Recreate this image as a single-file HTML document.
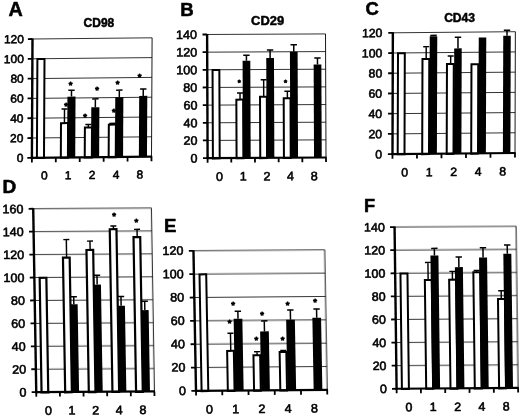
<!DOCTYPE html>
<html><head><meta charset="utf-8"><title>Figure</title>
<style>
html,body{margin:0;padding:0;background:#fff;}
body{width:520px;height:416px;overflow:hidden;}
svg{display:block;font-family:'Liberation Sans', sans-serif;fill:#000;}
text{stroke:#000;stroke-width:0.58px;stroke-linejoin:round;}
text.st{stroke-width:1.0px;}
</style></head><body>
<svg width="520" height="416" viewBox="0 0 520 416">
<defs><filter id="bl" x="0" y="0" width="520" height="416" filterUnits="userSpaceOnUse"><feGaussianBlur stdDeviation="0.4"/></filter><filter id="bl2" x="0" y="0" width="520" height="416" filterUnits="userSpaceOnUse"><feGaussianBlur stdDeviation="0.2"/></filter></defs>
<rect width="520" height="416" fill="#fff"/>
<g filter="url(#bl2)">
<g transform="translate(31.9 157.8) matrix(1 -0.01 -0.005 1 0 0) translate(-31.9 -157.8)">
<line x1="31.9" y1="138.00" x2="151.5" y2="138.00" stroke="#000" stroke-width="0.8"/>
<line x1="31.9" y1="118.20" x2="151.5" y2="118.20" stroke="#000" stroke-width="0.8"/>
<line x1="31.9" y1="98.40" x2="151.5" y2="98.40" stroke="#000" stroke-width="0.8"/>
<line x1="31.9" y1="78.60" x2="151.5" y2="78.60" stroke="#000" stroke-width="0.8"/>
<line x1="31.9" y1="58.80" x2="151.5" y2="58.80" stroke="#000" stroke-width="0.8"/>
<line x1="31.9" y1="39.00" x2="151.5" y2="39.00" stroke="#000" stroke-width="0.8"/>
<line x1="151.5" y1="39.00" x2="151.5" y2="157.8" stroke="#000" stroke-width="0.9"/>
</g>
<g transform="translate(207.6 158.1) matrix(1 -0.005 0.004 1 0 0) translate(-207.6 -158.1)">
<line x1="207.6" y1="140.44" x2="326.0" y2="140.44" stroke="#000" stroke-width="0.8"/>
<line x1="207.6" y1="122.79" x2="326.0" y2="122.79" stroke="#000" stroke-width="0.8"/>
<line x1="207.6" y1="105.13" x2="326.0" y2="105.13" stroke="#000" stroke-width="0.8"/>
<line x1="207.6" y1="87.47" x2="326.0" y2="87.47" stroke="#000" stroke-width="0.8"/>
<line x1="207.6" y1="69.81" x2="326.0" y2="69.81" stroke="#000" stroke-width="0.8"/>
<line x1="207.6" y1="52.16" x2="326.0" y2="52.16" stroke="#000" stroke-width="0.8"/>
<line x1="207.6" y1="34.50" x2="326.0" y2="34.50" stroke="#000" stroke-width="0.8"/>
<line x1="326.0" y1="34.50" x2="326.0" y2="158.1" stroke="#000" stroke-width="0.9"/>
</g>
<g transform="translate(392.5 154.1) matrix(1 -0.009 -0.003 1 0 0) translate(-392.5 -154.1)">
<line x1="392.5" y1="133.88" x2="515.0" y2="133.88" stroke="#000" stroke-width="0.8"/>
<line x1="392.5" y1="113.67" x2="515.0" y2="113.67" stroke="#000" stroke-width="0.8"/>
<line x1="392.5" y1="93.45" x2="515.0" y2="93.45" stroke="#000" stroke-width="0.8"/>
<line x1="392.5" y1="73.23" x2="515.0" y2="73.23" stroke="#000" stroke-width="0.8"/>
<line x1="392.5" y1="53.02" x2="515.0" y2="53.02" stroke="#000" stroke-width="0.8"/>
<line x1="392.5" y1="32.80" x2="515.0" y2="32.80" stroke="#000" stroke-width="0.8"/>
<line x1="515.0" y1="32.80" x2="515.0" y2="154.1" stroke="#000" stroke-width="0.9"/>
</g>
<g transform="translate(36.25 392.15) matrix(1 -0.006 0.0165 1 0 0) translate(-36.25 -392.15)">
<line x1="36.25" y1="369.22" x2="154.4" y2="369.22" stroke="#000" stroke-width="0.8"/>
<line x1="36.25" y1="346.30" x2="154.4" y2="346.30" stroke="#000" stroke-width="0.8"/>
<line x1="36.25" y1="323.38" x2="154.4" y2="323.38" stroke="#000" stroke-width="0.8"/>
<line x1="36.25" y1="300.45" x2="154.4" y2="300.45" stroke="#000" stroke-width="0.8"/>
<line x1="36.25" y1="277.52" x2="154.4" y2="277.52" stroke="#000" stroke-width="0.8"/>
<line x1="36.25" y1="254.60" x2="154.4" y2="254.60" stroke="#000" stroke-width="0.8"/>
<line x1="36.25" y1="231.67" x2="154.4" y2="231.67" stroke="#000" stroke-width="0.8"/>
<line x1="36.25" y1="208.75" x2="154.4" y2="208.75" stroke="#000" stroke-width="0.8"/>
<line x1="154.4" y1="208.75" x2="154.4" y2="392.15" stroke="#000" stroke-width="0.9"/>
</g>
<g transform="translate(196 390.9) matrix(1 -0.008 0.018 1 0 0) translate(-196 -390.9)">
<line x1="196" y1="367.55" x2="327.2" y2="367.55" stroke="#000" stroke-width="0.8"/>
<line x1="196" y1="344.20" x2="327.2" y2="344.20" stroke="#000" stroke-width="0.8"/>
<line x1="196" y1="320.85" x2="327.2" y2="320.85" stroke="#000" stroke-width="0.8"/>
<line x1="196" y1="297.50" x2="327.2" y2="297.50" stroke="#000" stroke-width="0.8"/>
<line x1="196" y1="274.15" x2="327.2" y2="274.15" stroke="#000" stroke-width="0.8"/>
<line x1="196" y1="250.80" x2="327.2" y2="250.80" stroke="#000" stroke-width="0.8"/>
<line x1="327.2" y1="250.80" x2="327.2" y2="390.9" stroke="#000" stroke-width="0.9"/>
</g>
<g transform="translate(396.6 388.75) matrix(1 -0.0065 0.0125 1 0 0) translate(-396.6 -388.75)">
<line x1="396.6" y1="365.65" x2="518.1" y2="365.65" stroke="#000" stroke-width="0.8"/>
<line x1="396.6" y1="342.55" x2="518.1" y2="342.55" stroke="#000" stroke-width="0.8"/>
<line x1="396.6" y1="319.45" x2="518.1" y2="319.45" stroke="#000" stroke-width="0.8"/>
<line x1="396.6" y1="296.35" x2="518.1" y2="296.35" stroke="#000" stroke-width="0.8"/>
<line x1="396.6" y1="273.25" x2="518.1" y2="273.25" stroke="#000" stroke-width="0.8"/>
<line x1="396.6" y1="250.15" x2="518.1" y2="250.15" stroke="#000" stroke-width="0.8"/>
<line x1="396.6" y1="227.05" x2="518.1" y2="227.05" stroke="#000" stroke-width="0.8"/>
<line x1="518.1" y1="227.05" x2="518.1" y2="388.75" stroke="#000" stroke-width="0.9"/>
</g>
</g>
<g filter="url(#bl)">
<g transform="translate(31.9 157.8) matrix(1 -0.01 -0.005 1 0 0) translate(-31.9 -157.8)">
<rect x="36.90" y="59.10" width="7.10" height="99.00" fill="#fff" stroke="#000" stroke-width="2.0"/>
<path d="M64.27 123.15V109.29M61.27 109.29H67.27" stroke="#000" stroke-width="1.45" fill="none"/>
<rect x="60.82" y="123.45" width="7.10" height="34.65" fill="#fff" stroke="#000" stroke-width="2.0"/>
<path d="M71.17 97.01V90.58M67.97 90.58H74.37" stroke="#000" stroke-width="1.5" fill="none"/>
<rect x="67.12" y="97.01" width="8.10" height="60.79" fill="#000"/>
<path d="M88.19 127.70V125.13M85.19 125.13H91.19" stroke="#000" stroke-width="1.45" fill="none"/>
<rect x="84.74" y="128.00" width="7.10" height="30.10" fill="#fff" stroke="#000" stroke-width="2.0"/>
<path d="M95.09 107.90V99.49M91.89 99.49H98.29" stroke="#000" stroke-width="1.5" fill="none"/>
<rect x="91.04" y="107.90" width="8.10" height="49.90" fill="#000"/>
<path d="M112.11 125.13V124.14M109.11 124.14H115.11" stroke="#000" stroke-width="1.45" fill="none"/>
<rect x="108.66" y="125.43" width="7.10" height="32.67" fill="#fff" stroke="#000" stroke-width="2.0"/>
<path d="M119.01 98.20V90.98M115.81 90.98H122.21" stroke="#000" stroke-width="1.5" fill="none"/>
<rect x="114.96" y="98.20" width="8.10" height="59.60" fill="#000"/>
<path d="M142.93 97.01V90.08M139.73 90.08H146.13" stroke="#000" stroke-width="1.5" fill="none"/>
<rect x="138.88" y="97.01" width="8.10" height="60.79" fill="#000"/>
<line x1="31.9" y1="38.40" x2="31.9" y2="158.8" stroke="#000" stroke-width="2.4"/>
<line x1="30.9" y1="157.8" x2="152.1" y2="157.8" stroke="#000" stroke-width="2.2"/>
<line x1="27.299999999999997" y1="157.80" x2="31.9" y2="157.80" stroke="#000" stroke-width="1.8"/>
<line x1="27.299999999999997" y1="138.00" x2="31.9" y2="138.00" stroke="#000" stroke-width="1.8"/>
<line x1="27.299999999999997" y1="118.20" x2="31.9" y2="118.20" stroke="#000" stroke-width="1.8"/>
<line x1="27.299999999999997" y1="98.40" x2="31.9" y2="98.40" stroke="#000" stroke-width="1.8"/>
<line x1="27.299999999999997" y1="78.60" x2="31.9" y2="78.60" stroke="#000" stroke-width="1.8"/>
<line x1="27.299999999999997" y1="58.80" x2="31.9" y2="58.80" stroke="#000" stroke-width="1.8"/>
<line x1="27.299999999999997" y1="39.00" x2="31.9" y2="39.00" stroke="#000" stroke-width="1.8"/>
<line x1="31.90" y1="157.8" x2="31.90" y2="162.4" stroke="#000" stroke-width="1.8"/>
<line x1="55.82" y1="157.8" x2="55.82" y2="162.4" stroke="#000" stroke-width="1.8"/>
<line x1="79.74" y1="157.8" x2="79.74" y2="162.4" stroke="#000" stroke-width="1.8"/>
<line x1="103.66" y1="157.8" x2="103.66" y2="162.4" stroke="#000" stroke-width="1.8"/>
<line x1="127.58" y1="157.8" x2="127.58" y2="162.4" stroke="#000" stroke-width="1.8"/>
<line x1="151.50" y1="157.8" x2="151.50" y2="162.4" stroke="#000" stroke-width="1.8"/>
<text transform="translate(23.30 161.85) scale(1.03 1)" text-anchor="end" font-size="11.60">0</text>
<text transform="translate(23.30 142.05) scale(1.03 1)" text-anchor="end" font-size="11.60">20</text>
<text transform="translate(23.30 122.25) scale(1.03 1)" text-anchor="end" font-size="11.60">40</text>
<text transform="translate(23.30 102.45) scale(1.03 1)" text-anchor="end" font-size="11.60">60</text>
<text transform="translate(23.30 82.65) scale(1.03 1)" text-anchor="end" font-size="11.60">80</text>
<text transform="translate(23.30 62.85) scale(1.03 1)" text-anchor="end" font-size="11.60">100</text>
<text transform="translate(23.30 43.05) scale(1.03 1)" text-anchor="end" font-size="11.60">120</text>
<text transform="translate(44.36 179.55) scale(1.03 1)" text-anchor="middle" font-size="11.60">0</text>
<text transform="translate(68.28 179.55) scale(1.03 1)" text-anchor="middle" font-size="11.60">1</text>
<text transform="translate(92.20 179.55) scale(1.03 1)" text-anchor="middle" font-size="11.60">2</text>
<text transform="translate(116.12 179.55) scale(1.03 1)" text-anchor="middle" font-size="11.60">4</text>
<text transform="translate(140.04 179.55) scale(1.03 1)" text-anchor="middle" font-size="11.60">8</text>
</g>
<text x="70.5" y="87.52" text-anchor="middle" font-size="9.5" class="st">*</text>
<text x="66" y="108.52" text-anchor="middle" font-size="9.5" class="st">*</text>
<text x="97" y="93.02" text-anchor="middle" font-size="9.5" class="st">*</text>
<text x="85" y="120.02" text-anchor="middle" font-size="9.5" class="st">*</text>
<text x="117.5" y="87.02" text-anchor="middle" font-size="9.5" class="st">*</text>
<text x="113.75" y="114.52" text-anchor="middle" font-size="9.5" class="st">*</text>
<text x="139.5" y="79.52" text-anchor="middle" font-size="9.5" class="st">*</text>
<text x="98.9" y="26.8" text-anchor="middle" font-size="12.0" font-weight="bold" style="stroke-width:0.5px">CD98</text>
<text x="8.5" y="16" font-size="19.8" font-weight="bold" style="stroke-width:0.55px">A</text>
<g transform="translate(207.6 158.1) matrix(1 -0.005 0.004 1 0 0) translate(-207.6 -158.1)">
<rect x="212.90" y="70.11" width="6.80" height="88.29" fill="#fff" stroke="#000" stroke-width="2.0"/>
<path d="M240.28 99.48V93.21M237.28 93.21H243.28" stroke="#000" stroke-width="1.45" fill="none"/>
<rect x="236.58" y="99.78" width="6.80" height="58.62" fill="#fff" stroke="#000" stroke-width="2.0"/>
<path d="M246.83 60.99V55.34M243.63 55.34H250.03" stroke="#000" stroke-width="1.5" fill="none"/>
<rect x="242.98" y="60.99" width="7.70" height="97.11" fill="#000"/>
<path d="M263.96 96.83V79.97M260.96 79.97H266.96" stroke="#000" stroke-width="1.45" fill="none"/>
<rect x="260.26" y="97.13" width="6.80" height="61.27" fill="#fff" stroke="#000" stroke-width="2.0"/>
<path d="M270.51 58.34V50.39M267.31 50.39H273.71" stroke="#000" stroke-width="1.5" fill="none"/>
<rect x="266.66" y="58.34" width="7.70" height="99.76" fill="#000"/>
<path d="M287.64 98.33V91.62M284.64 91.62H290.64" stroke="#000" stroke-width="1.45" fill="none"/>
<rect x="283.94" y="98.63" width="6.80" height="59.77" fill="#fff" stroke="#000" stroke-width="2.0"/>
<path d="M294.19 52.16V45.09M290.99 45.09H297.39" stroke="#000" stroke-width="1.5" fill="none"/>
<rect x="290.34" y="52.16" width="7.70" height="105.94" fill="#000"/>
<path d="M317.87 64.96V58.60M314.67 58.60H321.07" stroke="#000" stroke-width="1.5" fill="none"/>
<rect x="314.02" y="64.96" width="7.70" height="93.14" fill="#000"/>
<line x1="207.6" y1="33.90" x2="207.6" y2="159.1" stroke="#000" stroke-width="2.4"/>
<line x1="206.6" y1="158.1" x2="326.6" y2="158.1" stroke="#000" stroke-width="2.2"/>
<line x1="203.0" y1="158.10" x2="207.6" y2="158.10" stroke="#000" stroke-width="1.8"/>
<line x1="203.0" y1="140.44" x2="207.6" y2="140.44" stroke="#000" stroke-width="1.8"/>
<line x1="203.0" y1="122.79" x2="207.6" y2="122.79" stroke="#000" stroke-width="1.8"/>
<line x1="203.0" y1="105.13" x2="207.6" y2="105.13" stroke="#000" stroke-width="1.8"/>
<line x1="203.0" y1="87.47" x2="207.6" y2="87.47" stroke="#000" stroke-width="1.8"/>
<line x1="203.0" y1="69.81" x2="207.6" y2="69.81" stroke="#000" stroke-width="1.8"/>
<line x1="203.0" y1="52.16" x2="207.6" y2="52.16" stroke="#000" stroke-width="1.8"/>
<line x1="203.0" y1="34.50" x2="207.6" y2="34.50" stroke="#000" stroke-width="1.8"/>
<line x1="207.60" y1="158.1" x2="207.60" y2="162.7" stroke="#000" stroke-width="1.8"/>
<line x1="231.28" y1="158.1" x2="231.28" y2="162.7" stroke="#000" stroke-width="1.8"/>
<line x1="254.96" y1="158.1" x2="254.96" y2="162.7" stroke="#000" stroke-width="1.8"/>
<line x1="278.64" y1="158.1" x2="278.64" y2="162.7" stroke="#000" stroke-width="1.8"/>
<line x1="302.32" y1="158.1" x2="302.32" y2="162.7" stroke="#000" stroke-width="1.8"/>
<line x1="326.00" y1="158.1" x2="326.00" y2="162.7" stroke="#000" stroke-width="1.8"/>
<text transform="translate(197.60 162.38) scale(1.03 1)" text-anchor="end" font-size="12.23">0</text>
<text transform="translate(197.60 144.72) scale(1.03 1)" text-anchor="end" font-size="12.23">20</text>
<text transform="translate(197.60 127.06) scale(1.03 1)" text-anchor="end" font-size="12.23">40</text>
<text transform="translate(197.60 109.41) scale(1.03 1)" text-anchor="end" font-size="12.23">60</text>
<text transform="translate(197.60 91.75) scale(1.03 1)" text-anchor="end" font-size="12.23">80</text>
<text transform="translate(197.60 74.09) scale(1.03 1)" text-anchor="end" font-size="12.23">100</text>
<text transform="translate(197.60 56.43) scale(1.03 1)" text-anchor="end" font-size="12.23">120</text>
<text transform="translate(197.60 38.78) scale(1.03 1)" text-anchor="end" font-size="12.23">140</text>
<text transform="translate(219.44 180.68) scale(1.03 1)" text-anchor="middle" font-size="12.23">0</text>
<text transform="translate(243.12 180.68) scale(1.03 1)" text-anchor="middle" font-size="12.23">1</text>
<text transform="translate(266.80 180.68) scale(1.03 1)" text-anchor="middle" font-size="12.23">2</text>
<text transform="translate(290.48 180.68) scale(1.03 1)" text-anchor="middle" font-size="12.23">4</text>
<text transform="translate(314.16 180.68) scale(1.03 1)" text-anchor="middle" font-size="12.23">8</text>
</g>
<text x="239.25" y="84.82" text-anchor="middle" font-size="7.8" class="st">*</text>
<text x="285.6" y="84.82" text-anchor="middle" font-size="7.8" class="st">*</text>
<text x="267.6" y="24.9" text-anchor="middle" font-size="12.9" font-weight="bold" style="stroke-width:0.5px">CD29</text>
<text x="180.2" y="15.6" font-size="18.6" font-weight="bold" style="stroke-width:0.55px">B</text>
<g transform="translate(392.5 154.1) matrix(1 -0.009 -0.003 1 0 0) translate(-392.5 -154.1)">
<rect x="397.70" y="53.32" width="6.80" height="101.08" fill="#fff" stroke="#000" stroke-width="2.0"/>
<path d="M425.90 59.08V46.95M422.90 46.95H428.90" stroke="#000" stroke-width="1.45" fill="none"/>
<rect x="422.20" y="59.38" width="6.80" height="95.02" fill="#fff" stroke="#000" stroke-width="2.0"/>
<path d="M433.15 36.54V35.73M429.95 35.73H436.35" stroke="#000" stroke-width="1.5" fill="none"/>
<rect x="429.40" y="36.54" width="7.50" height="117.56" fill="#000"/>
<path d="M450.40 64.14V56.55M447.40 56.55H453.40" stroke="#000" stroke-width="1.45" fill="none"/>
<rect x="446.70" y="64.44" width="6.80" height="89.96" fill="#fff" stroke="#000" stroke-width="2.0"/>
<path d="M457.65 48.97V37.85M454.45 37.85H460.85" stroke="#000" stroke-width="1.5" fill="none"/>
<rect x="453.90" y="48.97" width="7.50" height="105.13" fill="#000"/>
<rect x="471.20" y="64.94" width="6.80" height="89.46" fill="#fff" stroke="#000" stroke-width="2.0"/>
<rect x="478.40" y="38.36" width="7.50" height="115.74" fill="#000"/>
<path d="M506.65 36.84V31.28M503.45 31.28H509.85" stroke="#000" stroke-width="1.5" fill="none"/>
<rect x="502.90" y="36.84" width="7.50" height="117.26" fill="#000"/>
<line x1="392.5" y1="32.20" x2="392.5" y2="155.1" stroke="#000" stroke-width="2.4"/>
<line x1="391.5" y1="154.1" x2="515.6" y2="154.1" stroke="#000" stroke-width="2.2"/>
<line x1="387.9" y1="154.10" x2="392.5" y2="154.10" stroke="#000" stroke-width="1.8"/>
<line x1="387.9" y1="133.88" x2="392.5" y2="133.88" stroke="#000" stroke-width="1.8"/>
<line x1="387.9" y1="113.67" x2="392.5" y2="113.67" stroke="#000" stroke-width="1.8"/>
<line x1="387.9" y1="93.45" x2="392.5" y2="93.45" stroke="#000" stroke-width="1.8"/>
<line x1="387.9" y1="73.23" x2="392.5" y2="73.23" stroke="#000" stroke-width="1.8"/>
<line x1="387.9" y1="53.02" x2="392.5" y2="53.02" stroke="#000" stroke-width="1.8"/>
<line x1="387.9" y1="32.80" x2="392.5" y2="32.80" stroke="#000" stroke-width="1.8"/>
<line x1="392.50" y1="154.1" x2="392.50" y2="158.7" stroke="#000" stroke-width="1.8"/>
<line x1="417.00" y1="154.1" x2="417.00" y2="158.7" stroke="#000" stroke-width="1.8"/>
<line x1="441.50" y1="154.1" x2="441.50" y2="158.7" stroke="#000" stroke-width="1.8"/>
<line x1="466.00" y1="154.1" x2="466.00" y2="158.7" stroke="#000" stroke-width="1.8"/>
<line x1="490.50" y1="154.1" x2="490.50" y2="158.7" stroke="#000" stroke-width="1.8"/>
<line x1="515.00" y1="154.1" x2="515.00" y2="158.7" stroke="#000" stroke-width="1.8"/>
<text transform="translate(382.00 158.26) scale(1.03 1)" text-anchor="end" font-size="11.91">0</text>
<text transform="translate(382.00 138.05) scale(1.03 1)" text-anchor="end" font-size="11.91">20</text>
<text transform="translate(382.00 117.83) scale(1.03 1)" text-anchor="end" font-size="11.91">40</text>
<text transform="translate(382.00 97.61) scale(1.03 1)" text-anchor="end" font-size="11.91">60</text>
<text transform="translate(382.00 77.40) scale(1.03 1)" text-anchor="end" font-size="11.91">80</text>
<text transform="translate(382.00 57.18) scale(1.03 1)" text-anchor="end" font-size="11.91">100</text>
<text transform="translate(382.00 36.96) scale(1.03 1)" text-anchor="end" font-size="11.91">120</text>
<text transform="translate(404.75 176.56) scale(1.03 1)" text-anchor="middle" font-size="11.91">0</text>
<text transform="translate(429.25 176.56) scale(1.03 1)" text-anchor="middle" font-size="11.91">1</text>
<text transform="translate(453.75 176.56) scale(1.03 1)" text-anchor="middle" font-size="11.91">2</text>
<text transform="translate(478.25 176.56) scale(1.03 1)" text-anchor="middle" font-size="11.91">4</text>
<text transform="translate(502.75 176.56) scale(1.03 1)" text-anchor="middle" font-size="11.91">8</text>
</g>
<text x="459.6" y="22.1" text-anchor="middle" font-size="12.1" font-weight="bold" style="stroke-width:0.5px">CD43</text>
<text x="365.4" y="15.4" font-size="18.4" font-weight="bold" style="stroke-width:0.55px">C</text>
<g transform="translate(36.25 392.15) matrix(1 -0.006 0.0165 1 0 0) translate(-36.25 -392.15)">
<rect x="41.55" y="277.82" width="6.70" height="114.62" fill="#fff" stroke="#000" stroke-width="2.2"/>
<path d="M68.83 257.58V239.81M65.83 239.81H71.83" stroke="#000" stroke-width="1.45" fill="none"/>
<rect x="65.18" y="257.88" width="6.70" height="134.57" fill="#fff" stroke="#000" stroke-width="2.2"/>
<path d="M75.28 304.46V297.01M72.08 297.01H78.48" stroke="#000" stroke-width="1.5" fill="none"/>
<rect x="71.48" y="304.46" width="7.60" height="87.69" fill="#000"/>
<path d="M92.46 250.01V241.42M89.46 241.42H95.46" stroke="#000" stroke-width="1.45" fill="none"/>
<rect x="88.81" y="250.31" width="6.70" height="142.13" fill="#fff" stroke="#000" stroke-width="2.2"/>
<path d="M98.91 284.98V275.58M95.71 275.58H102.11" stroke="#000" stroke-width="1.5" fill="none"/>
<rect x="95.11" y="284.98" width="7.60" height="107.17" fill="#000"/>
<path d="M116.09 229.38V226.52M113.09 226.52H119.09" stroke="#000" stroke-width="1.45" fill="none"/>
<rect x="112.44" y="229.68" width="6.70" height="162.77" fill="#fff" stroke="#000" stroke-width="2.2"/>
<path d="M122.54 306.18V297.01M119.34 297.01H125.74" stroke="#000" stroke-width="1.5" fill="none"/>
<rect x="118.74" y="306.18" width="7.60" height="85.97" fill="#000"/>
<path d="M139.72 237.41V229.96M136.72 229.96H142.72" stroke="#000" stroke-width="1.45" fill="none"/>
<rect x="136.07" y="237.71" width="6.70" height="154.74" fill="#fff" stroke="#000" stroke-width="2.2"/>
<path d="M146.17 310.77V301.94M142.97 301.94H149.37" stroke="#000" stroke-width="1.5" fill="none"/>
<rect x="142.37" y="310.77" width="7.60" height="81.38" fill="#000"/>
<line x1="36.25" y1="208.15" x2="36.25" y2="393.15" stroke="#000" stroke-width="2.4"/>
<line x1="35.25" y1="392.15" x2="155.0" y2="392.15" stroke="#000" stroke-width="2.2"/>
<line x1="31.65" y1="392.15" x2="36.25" y2="392.15" stroke="#000" stroke-width="1.8"/>
<line x1="31.65" y1="369.22" x2="36.25" y2="369.22" stroke="#000" stroke-width="1.8"/>
<line x1="31.65" y1="346.30" x2="36.25" y2="346.30" stroke="#000" stroke-width="1.8"/>
<line x1="31.65" y1="323.38" x2="36.25" y2="323.38" stroke="#000" stroke-width="1.8"/>
<line x1="31.65" y1="300.45" x2="36.25" y2="300.45" stroke="#000" stroke-width="1.8"/>
<line x1="31.65" y1="277.52" x2="36.25" y2="277.52" stroke="#000" stroke-width="1.8"/>
<line x1="31.65" y1="254.60" x2="36.25" y2="254.60" stroke="#000" stroke-width="1.8"/>
<line x1="31.65" y1="231.67" x2="36.25" y2="231.67" stroke="#000" stroke-width="1.8"/>
<line x1="31.65" y1="208.75" x2="36.25" y2="208.75" stroke="#000" stroke-width="1.8"/>
<line x1="36.25" y1="392.15" x2="36.25" y2="396.75" stroke="#000" stroke-width="1.8"/>
<line x1="59.88" y1="392.15" x2="59.88" y2="396.75" stroke="#000" stroke-width="1.8"/>
<line x1="83.51" y1="392.15" x2="83.51" y2="396.75" stroke="#000" stroke-width="1.8"/>
<line x1="107.14" y1="392.15" x2="107.14" y2="396.75" stroke="#000" stroke-width="1.8"/>
<line x1="130.77" y1="392.15" x2="130.77" y2="396.75" stroke="#000" stroke-width="1.8"/>
<line x1="154.40" y1="392.15" x2="154.40" y2="396.75" stroke="#000" stroke-width="1.8"/>
<text transform="translate(26.45 396.43) scale(1.03 1)" text-anchor="end" font-size="12.23">0</text>
<text transform="translate(26.45 373.50) scale(1.03 1)" text-anchor="end" font-size="12.23">20</text>
<text transform="translate(26.45 350.58) scale(1.03 1)" text-anchor="end" font-size="12.23">40</text>
<text transform="translate(26.45 327.65) scale(1.03 1)" text-anchor="end" font-size="12.23">60</text>
<text transform="translate(26.45 304.73) scale(1.03 1)" text-anchor="end" font-size="12.23">80</text>
<text transform="translate(26.45 281.80) scale(1.03 1)" text-anchor="end" font-size="12.23">100</text>
<text transform="translate(26.45 258.88) scale(1.03 1)" text-anchor="end" font-size="12.23">120</text>
<text transform="translate(26.45 235.95) scale(1.03 1)" text-anchor="end" font-size="12.23">140</text>
<text transform="translate(26.45 213.03) scale(1.03 1)" text-anchor="end" font-size="12.23">160</text>
<text transform="translate(48.06 414.73) scale(1.03 1)" text-anchor="middle" font-size="12.23">0</text>
<text transform="translate(71.70 414.73) scale(1.03 1)" text-anchor="middle" font-size="12.23">1</text>
<text transform="translate(95.33 414.73) scale(1.03 1)" text-anchor="middle" font-size="12.23">2</text>
<text transform="translate(118.96 414.73) scale(1.03 1)" text-anchor="middle" font-size="12.23">4</text>
<text transform="translate(142.59 414.73) scale(1.03 1)" text-anchor="middle" font-size="12.23">8</text>
</g>
<text x="114" y="219.12" text-anchor="middle" font-size="9.5" class="st">*</text>
<text x="136.25" y="224.92" text-anchor="middle" font-size="9.5" class="st">*</text>
<text x="2.6" y="193.1" font-size="19" font-weight="bold" style="stroke-width:0.55px">D</text>
<g transform="translate(196 390.9) matrix(1 -0.008 0.018 1 0 0) translate(-196 -390.9)">
<rect x="201.60" y="274.45" width="6.70" height="116.75" fill="#fff" stroke="#000" stroke-width="2.0"/>
<path d="M231.49 350.85V333.46M228.49 333.46H234.49" stroke="#000" stroke-width="1.45" fill="none"/>
<rect x="227.84" y="351.15" width="6.70" height="40.05" fill="#fff" stroke="#000" stroke-width="2.0"/>
<path d="M239.29 319.10V311.51M236.09 311.51H242.49" stroke="#000" stroke-width="1.5" fill="none"/>
<rect x="234.94" y="319.10" width="8.70" height="71.80" fill="#000"/>
<path d="M257.73 355.41V352.14M254.73 352.14H260.73" stroke="#000" stroke-width="1.45" fill="none"/>
<rect x="254.08" y="355.71" width="6.70" height="35.49" fill="#fff" stroke="#000" stroke-width="2.0"/>
<path d="M265.53 331.94V321.43M262.33 321.43H268.73" stroke="#000" stroke-width="1.5" fill="none"/>
<rect x="261.18" y="331.94" width="8.70" height="58.96" fill="#000"/>
<path d="M283.97 352.37V351.20M280.97 351.20H286.97" stroke="#000" stroke-width="1.45" fill="none"/>
<rect x="280.32" y="352.67" width="6.70" height="38.53" fill="#fff" stroke="#000" stroke-width="2.0"/>
<path d="M291.77 320.50V310.81M288.57 310.81H294.97" stroke="#000" stroke-width="1.5" fill="none"/>
<rect x="287.42" y="320.50" width="8.70" height="70.40" fill="#000"/>
<path d="M318.01 318.75V310.05M314.81 310.05H321.21" stroke="#000" stroke-width="1.5" fill="none"/>
<rect x="313.66" y="318.75" width="8.70" height="72.15" fill="#000"/>
<line x1="196" y1="250.20" x2="196" y2="391.9" stroke="#000" stroke-width="2.4"/>
<line x1="195" y1="390.9" x2="327.8" y2="390.9" stroke="#000" stroke-width="2.2"/>
<line x1="191.4" y1="390.90" x2="196" y2="390.90" stroke="#000" stroke-width="1.8"/>
<line x1="191.4" y1="367.55" x2="196" y2="367.55" stroke="#000" stroke-width="1.8"/>
<line x1="191.4" y1="344.20" x2="196" y2="344.20" stroke="#000" stroke-width="1.8"/>
<line x1="191.4" y1="320.85" x2="196" y2="320.85" stroke="#000" stroke-width="1.8"/>
<line x1="191.4" y1="297.50" x2="196" y2="297.50" stroke="#000" stroke-width="1.8"/>
<line x1="191.4" y1="274.15" x2="196" y2="274.15" stroke="#000" stroke-width="1.8"/>
<line x1="191.4" y1="250.80" x2="196" y2="250.80" stroke="#000" stroke-width="1.8"/>
<line x1="196.00" y1="390.9" x2="196.00" y2="395.5" stroke="#000" stroke-width="1.8"/>
<line x1="222.24" y1="390.9" x2="222.24" y2="395.5" stroke="#000" stroke-width="1.8"/>
<line x1="248.48" y1="390.9" x2="248.48" y2="395.5" stroke="#000" stroke-width="1.8"/>
<line x1="274.72" y1="390.9" x2="274.72" y2="395.5" stroke="#000" stroke-width="1.8"/>
<line x1="300.96" y1="390.9" x2="300.96" y2="395.5" stroke="#000" stroke-width="1.8"/>
<line x1="327.20" y1="390.9" x2="327.20" y2="395.5" stroke="#000" stroke-width="1.8"/>
<text transform="translate(185.90 394.78) scale(1.03 1)" text-anchor="end" font-size="12.23">0</text>
<text transform="translate(185.90 371.43) scale(1.03 1)" text-anchor="end" font-size="12.23">20</text>
<text transform="translate(185.90 348.08) scale(1.03 1)" text-anchor="end" font-size="12.23">40</text>
<text transform="translate(185.90 324.73) scale(1.03 1)" text-anchor="end" font-size="12.23">60</text>
<text transform="translate(185.90 301.38) scale(1.03 1)" text-anchor="end" font-size="12.23">80</text>
<text transform="translate(185.90 278.03) scale(1.03 1)" text-anchor="end" font-size="12.23">100</text>
<text transform="translate(185.90 254.68) scale(1.03 1)" text-anchor="end" font-size="12.23">120</text>
<text transform="translate(209.12 413.48) scale(1.03 1)" text-anchor="middle" font-size="12.23">0</text>
<text transform="translate(235.36 413.48) scale(1.03 1)" text-anchor="middle" font-size="12.23">1</text>
<text transform="translate(261.60 413.48) scale(1.03 1)" text-anchor="middle" font-size="12.23">2</text>
<text transform="translate(287.84 413.48) scale(1.03 1)" text-anchor="middle" font-size="12.23">4</text>
<text transform="translate(314.08 413.48) scale(1.03 1)" text-anchor="middle" font-size="12.23">8</text>
</g>
<text x="233" y="308.27" text-anchor="middle" font-size="9.5" class="st">*</text>
<text x="262" y="317.52" text-anchor="middle" font-size="9.5" class="st">*</text>
<text x="287.5" y="307.52" text-anchor="middle" font-size="9.5" class="st">*</text>
<text x="229.5" y="326.02" text-anchor="middle" font-size="9.5" class="st">*</text>
<text x="256.25" y="342.77" text-anchor="middle" font-size="9.5" class="st">*</text>
<text x="282.5" y="342.77" text-anchor="middle" font-size="9.5" class="st">*</text>
<text x="315" y="305.02" text-anchor="middle" font-size="9.5" class="st">*</text>
<text x="163.9" y="231.5" font-size="18.6" font-weight="bold" style="stroke-width:0.55px">E</text>
<g transform="translate(396.6 388.75) matrix(1 -0.0065 0.0125 1 0 0) translate(-396.6 -388.75)">
<rect x="401.90" y="273.55" width="7.00" height="115.50" fill="#fff" stroke="#000" stroke-width="2.0"/>
<path d="M429.50 279.83V262.62M426.50 262.62H432.50" stroke="#000" stroke-width="1.45" fill="none"/>
<rect x="426.20" y="280.13" width="7.00" height="108.92" fill="#fff" stroke="#000" stroke-width="2.0"/>
<path d="M436.10 255.75V248.65M432.90 248.65H439.30" stroke="#000" stroke-width="1.5" fill="none"/>
<rect x="432.10" y="255.75" width="8.00" height="133.00" fill="#000"/>
<path d="M453.80 279.72V271.75M450.80 271.75H456.80" stroke="#000" stroke-width="1.45" fill="none"/>
<rect x="450.50" y="280.02" width="7.00" height="109.03" fill="#fff" stroke="#000" stroke-width="2.0"/>
<path d="M460.40 267.53V257.43M457.20 257.43H463.60" stroke="#000" stroke-width="1.5" fill="none"/>
<rect x="456.40" y="267.53" width="8.00" height="121.22" fill="#000"/>
<path d="M478.10 272.50V270.94M475.10 270.94H481.10" stroke="#000" stroke-width="1.45" fill="none"/>
<rect x="474.80" y="272.80" width="7.00" height="116.25" fill="#fff" stroke="#000" stroke-width="2.0"/>
<path d="M484.70 258.00V248.36M481.50 248.36H487.90" stroke="#000" stroke-width="1.5" fill="none"/>
<rect x="480.70" y="258.00" width="8.00" height="130.75" fill="#000"/>
<path d="M502.40 299.35V291.38M499.40 291.38H505.40" stroke="#000" stroke-width="1.45" fill="none"/>
<rect x="499.10" y="299.65" width="7.00" height="89.40" fill="#fff" stroke="#000" stroke-width="2.0"/>
<path d="M509.00 254.42V245.70M505.80 245.70H512.20" stroke="#000" stroke-width="1.5" fill="none"/>
<rect x="505.00" y="254.42" width="8.00" height="134.33" fill="#000"/>
<line x1="396.6" y1="226.45" x2="396.6" y2="389.75" stroke="#000" stroke-width="2.4"/>
<line x1="395.6" y1="388.75" x2="518.7" y2="388.75" stroke="#000" stroke-width="2.2"/>
<line x1="392.0" y1="388.75" x2="396.6" y2="388.75" stroke="#000" stroke-width="1.8"/>
<line x1="392.0" y1="365.65" x2="396.6" y2="365.65" stroke="#000" stroke-width="1.8"/>
<line x1="392.0" y1="342.55" x2="396.6" y2="342.55" stroke="#000" stroke-width="1.8"/>
<line x1="392.0" y1="319.45" x2="396.6" y2="319.45" stroke="#000" stroke-width="1.8"/>
<line x1="392.0" y1="296.35" x2="396.6" y2="296.35" stroke="#000" stroke-width="1.8"/>
<line x1="392.0" y1="273.25" x2="396.6" y2="273.25" stroke="#000" stroke-width="1.8"/>
<line x1="392.0" y1="250.15" x2="396.6" y2="250.15" stroke="#000" stroke-width="1.8"/>
<line x1="392.0" y1="227.05" x2="396.6" y2="227.05" stroke="#000" stroke-width="1.8"/>
<line x1="396.60" y1="388.75" x2="396.60" y2="393.35" stroke="#000" stroke-width="1.8"/>
<line x1="420.90" y1="388.75" x2="420.90" y2="393.35" stroke="#000" stroke-width="1.8"/>
<line x1="445.20" y1="388.75" x2="445.20" y2="393.35" stroke="#000" stroke-width="1.8"/>
<line x1="469.50" y1="388.75" x2="469.50" y2="393.35" stroke="#000" stroke-width="1.8"/>
<line x1="493.80" y1="388.75" x2="493.80" y2="393.35" stroke="#000" stroke-width="1.8"/>
<line x1="518.10" y1="388.75" x2="518.10" y2="393.35" stroke="#000" stroke-width="1.8"/>
<text transform="translate(386.80 392.99) scale(1.03 1)" text-anchor="end" font-size="12.12">0</text>
<text transform="translate(386.80 369.89) scale(1.03 1)" text-anchor="end" font-size="12.12">20</text>
<text transform="translate(386.80 346.79) scale(1.03 1)" text-anchor="end" font-size="12.12">40</text>
<text transform="translate(386.80 323.69) scale(1.03 1)" text-anchor="end" font-size="12.12">60</text>
<text transform="translate(386.80 300.59) scale(1.03 1)" text-anchor="end" font-size="12.12">80</text>
<text transform="translate(386.80 277.49) scale(1.03 1)" text-anchor="end" font-size="12.12">100</text>
<text transform="translate(386.80 254.39) scale(1.03 1)" text-anchor="end" font-size="12.12">120</text>
<text transform="translate(386.80 231.29) scale(1.03 1)" text-anchor="end" font-size="12.12">140</text>
<text transform="translate(408.75 411.29) scale(1.03 1)" text-anchor="middle" font-size="12.12">0</text>
<text transform="translate(433.05 411.29) scale(1.03 1)" text-anchor="middle" font-size="12.12">1</text>
<text transform="translate(457.35 411.29) scale(1.03 1)" text-anchor="middle" font-size="12.12">2</text>
<text transform="translate(481.65 411.29) scale(1.03 1)" text-anchor="middle" font-size="12.12">4</text>
<text transform="translate(505.95 411.29) scale(1.03 1)" text-anchor="middle" font-size="12.12">8</text>
</g>
<text x="364" y="211.7" font-size="18.2" font-weight="bold" style="stroke-width:0.55px">F</text>
</g>
</svg>
</body></html>
